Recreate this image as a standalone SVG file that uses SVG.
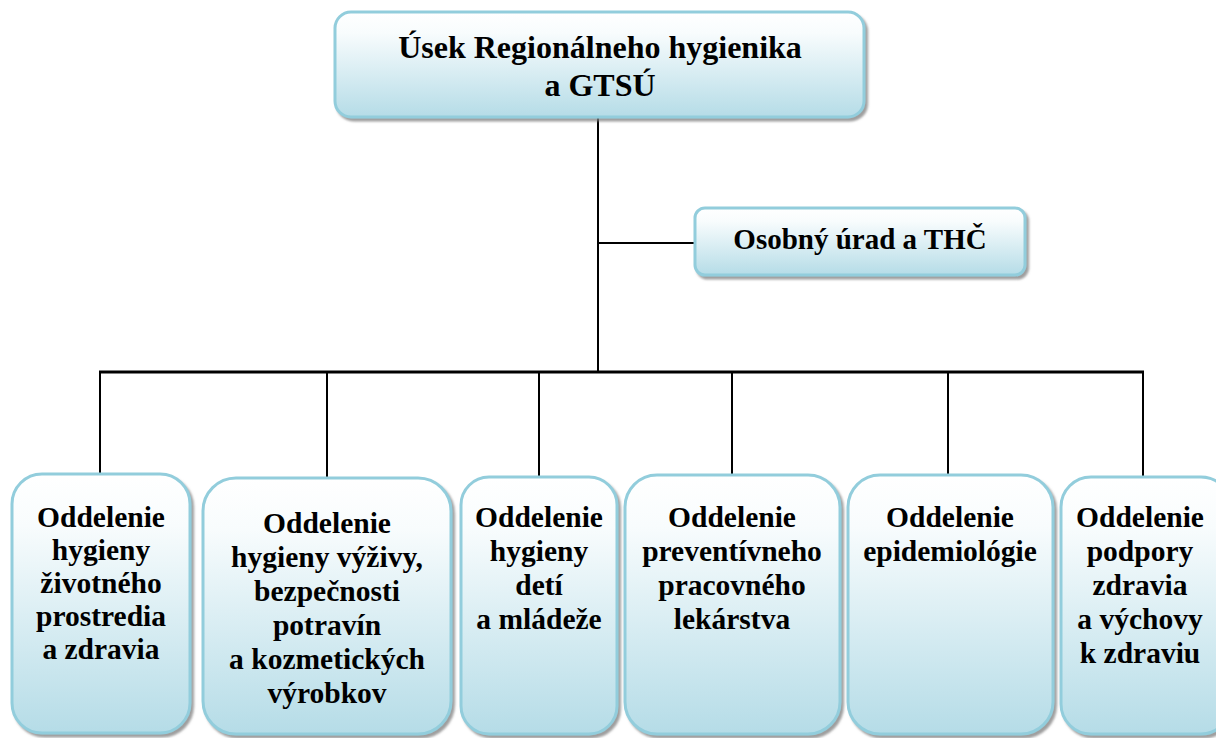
<svg xmlns="http://www.w3.org/2000/svg" width="1216" height="738" viewBox="0 0 1216 738">
<defs>
<linearGradient id="g" x1="0" y1="0" x2="0" y2="1">
<stop offset="0" stop-color="#ffffff"/>
<stop offset="0.2" stop-color="#f8fcfd"/>
<stop offset="1" stop-color="#b5dce7"/>
</linearGradient>
<filter id="sh" x="-10%" y="-10%" width="120%" height="120%">
<feDropShadow dx="2.5" dy="3" stdDeviation="1.2" flood-color="#7f7f7f" flood-opacity="0.75"/>
</filter>
</defs>
<style>
.box{fill:url(#g);stroke:#92cddc;stroke-width:3;filter:url(#sh)}
text{font-family:'Liberation Serif','Times New Roman',serif;font-weight:bold;fill:#000;text-anchor:middle}
.b{font-size:29.5px}
.c{stroke:#000;stroke-width:2;fill:none}
.h{stroke:#000;stroke-width:3;fill:none}
</style>
<g id="connectors">
<line class="c" x1="598" y1="118" x2="598" y2="372"/>
<line class="c" x1="598" y1="243" x2="696" y2="243"/>
<line class="h" x1="99" y1="372" x2="1144" y2="372"/>
<line class="c" x1="100" y1="371" x2="100" y2="475"/>
<line class="c" x1="327" y1="371" x2="327" y2="479"/>
<line class="c" x1="539" y1="371" x2="539" y2="478"/>
<line class="c" x1="732" y1="371" x2="732" y2="476"/>
<line class="c" x1="948" y1="371" x2="948" y2="476"/>
<line class="c" x1="1143" y1="371" x2="1143" y2="478"/>
</g>
<g id="top">
<rect class="box" x="335" y="12" width="529" height="105" rx="16"/>
<text font-size="32" x="600" y="58">Úsek Regionálneho hygienika</text>
<text font-size="32" x="600" y="96">a GTSÚ</text>
</g>
<g id="osobny">
<rect class="box" x="695" y="208" width="330" height="67" rx="10"/>
<text font-size="29" x="860" y="249">Osobný úrad a THČ</text>
</g>
<g id="n1">
<rect class="box" x="12" y="474" width="178" height="259" rx="30"/>
<text class="b" x="101" y="527">Oddelenie</text>
<text class="b" x="101" y="560">hygieny</text>
<text class="b" x="101" y="593">životného</text>
<text class="b" x="101" y="626">prostredia</text>
<text class="b" x="101" y="659">a zdravia</text>
</g>
<g id="n2">
<rect class="box" x="203" y="478" width="248" height="256" rx="33"/>
<text class="b" x="327" y="533">Oddelenie</text>
<text class="b" x="327" y="567">hygieny výživy,</text>
<text class="b" x="327" y="601">bezpečnosti</text>
<text class="b" x="327" y="635">potravín</text>
<text class="b" x="327" y="669">a kozmetických</text>
<text class="b" x="327" y="703">výrobkov</text>
</g>
<g id="n3">
<rect class="box" x="461" y="477" width="156" height="257" rx="28"/>
<text class="b" x="539" y="527">Oddelenie</text>
<text class="b" x="539" y="561">hygieny</text>
<text class="b" x="539" y="595">detí</text>
<text class="b" x="539" y="629">a mládeže</text>
</g>
<g id="n4">
<rect class="box" x="625" y="475" width="215" height="259" rx="32"/>
<text class="b" x="732" y="527">Oddelenie</text>
<text class="b" x="732" y="561">preventívneho</text>
<text class="b" x="732" y="595">pracovného</text>
<text class="b" x="732" y="629">lekárstva</text>
</g>
<g id="n5">
<rect class="box" x="848" y="475" width="205" height="259" rx="32"/>
<text class="b" x="950" y="527">Oddelenie</text>
<text class="b" x="950" y="561">epidemiológie</text>
</g>
<g id="n6">
<rect class="box" x="1061" y="477" width="170" height="257" rx="30"/>
<text class="b" x="1140" y="527">Oddelenie</text>
<text class="b" x="1140" y="561">podpory</text>
<text class="b" x="1140" y="595">zdravia</text>
<text class="b" x="1140" y="629">a výchovy</text>
<text class="b" x="1140" y="663">k zdraviu</text>
</g>
</svg>
